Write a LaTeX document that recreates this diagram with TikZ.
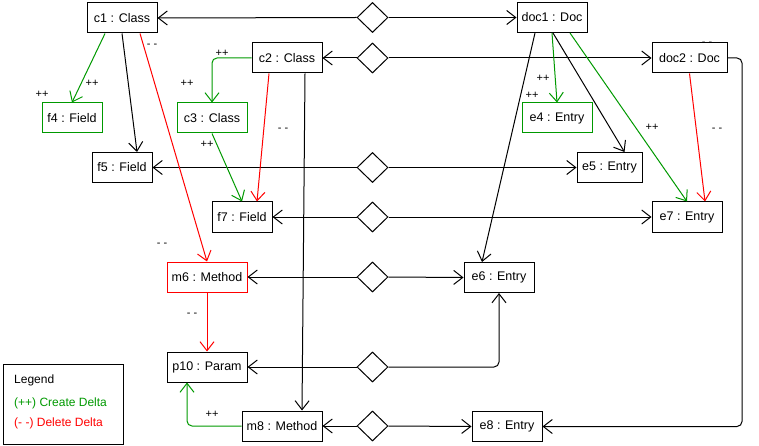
\documentclass[tikz,border=0pt]{standalone}
\usepackage{fontspec}
\setmainfont{Liberation Sans}
\usetikzlibrary{arrows.meta,shapes.geometric}
\definecolor{dgreen}{HTML}{009900}
\definecolor{dred}{HTML}{FF0000}
\begin{document}
\begin{tikzpicture}[x=1pt,y=-1pt,
 box/.style={draw, fill=white, line width=1pt, minimum height=30pt, inner sep=0pt, font=\fontsize{12.5}{14}\selectfont},
 gbox/.style={box, draw=dgreen},
 rbox/.style={box, draw=dred},
 dia/.style={diamond, draw, fill=white, line width=1pt, minimum width=31pt, minimum height=30pt, inner sep=0pt, aspect=1},
 link/.style={line width=1pt, -{Straight Barb[length=9pt,width=14pt]}},
 glink/.style={link, draw=dgreen},
 rlink/.style={link, draw=dred},
 lbl/.style={font=\fontsize{11}{12}\selectfont, inner sep=0pt},
]
\useasboundingbox (0,0) rectangle (759,446);

% label mostly hidden behind doc2
\node[lbl] (l0) at (707,43.8) {- -};

% nodes
\node[box, minimum width=70pt] (c1) at (122,18) {c1 : Class};
\node[box, minimum width=70pt] (c2) at (287,58) {c2 : Class};
\node[gbox, minimum width=60pt] (f4) at (72,118) {f4 : Field};
\node[gbox, minimum width=70pt] (c3) at (212,118) {c3 : Class};
\node[box, minimum width=60pt] (f5) at (122,167.5) {f5 : Field};
\node[box, minimum width=60pt] (f7) at (242,217) {f7 : Field};
\node[box, minimum width=70pt] (doc1) at (552,17.5) {doc1 : Doc};
\node[box, minimum width=75pt] (doc2) at (689.5,58) {doc2 : Doc};
\node[gbox, minimum width=70pt] (e4) at (557,118) {e4 : Entry};
\node[box, minimum width=65pt] (e5) at (609.5,167.5) {e5 : Entry};
\node[box, minimum width=70pt] (e7) at (687,217) {e7 : Entry};
\node[rbox, minimum width=80pt] (m6) at (207,277) {m6 : Method};
\node[box, minimum width=80pt] (p10) at (207,367) {p10 : Param};
\node[box, minimum width=80pt] (m8) at (282,426) {m8 : Method};
\node[box, minimum width=70pt] (e6) at (499,277.5) {e6 : Entry};
\node[box, minimum width=70pt] (e8) at (507,426.5) {e8 : Entry};

% diamonds
\node[dia] (d1) at (372.5,17.5) {};
\node[dia] (d2) at (372.5,58) {};
\node[dia] (d3) at (372.5,167.5) {};
\node[dia] (d4) at (372.5,217) {};
\node[dia] (d5) at (372.5,277) {};
\node[dia] (d6) at (372.5,367) {};
\node[dia] (d7) at (372.5,426) {};

\coordinate (r) at (742,0);

% correspondence links
\draw[link] (d1.west) -- (c1.east);
\draw[link] (d1.east) -- (doc1.west);
\draw[link] (d2.west) -- (c2.east);
\draw[link] (d2.east) -- (doc2.west);
\draw[link] (d3.west) -- (f5.east);
\draw[link] (d3.east) -- (e5.west);
\draw[link] (d4.west) -- (f7.east);
\draw[link] (d4.east) -- (e7.west);
\draw[link] (d5.west) -- (m6.east);
\draw[link] (d5.east) -- (e6.west);
\draw[link] (d6.west) -- (p10.east);
\draw[link, rounded corners=5pt] (d6.east) -| (e6.south);
\draw[link] (d7.west) -- (m8.east);
\draw[link] (d7.east) -- (e8.west);

% containment links
\draw[glink] ([xshift=-17pt]c1.south) -- (f4.north);
\draw[link] (c1.south) -- ([xshift=15pt]f5.north);
\draw[rlink] ([xshift=18pt]c1.south) -- (m6.north);
\draw[glink, rounded corners=5pt] (c2.west) -| (c3.north);
\draw[rlink] ([xshift=-18pt]c2.south) -- ([xshift=15pt]f7.north);
\draw[glink] (c3.south) -- (f7.north);
\draw[link] ([xshift=18pt]c2.south) -- ([xshift=20pt]m8.north);
\draw[rlink] (m6.south) -- (p10.north);
\draw[glink, rounded corners=5pt] (m8.west) -| ([xshift=-20pt]p10.south);
\draw[glink] (doc1.south) -- (e4.north);
\draw[link] ([xshift=1pt]doc1.south) -- ([xshift=15pt]e5.north);
\draw[glink] ([xshift=18pt]doc1.south) -- (e7.north);
\draw[link] ([xshift=-17pt]doc1.south) -- ([xshift=-17pt]e6.north);
\draw[rlink] (doc2.south) -- ([xshift=18pt]e7.north);
\draw[link, rounded corners=5pt] (doc2.east) -- (doc2.east -| r) -- (e8.east -| r) -- (e8.east);

% edge labels
\node[lbl] (l1) at (92,83) {++};
\node[lbl] (l2) at (42,94) {++};
\node[lbl] (l3) at (152,45.5) {- -};
\node[lbl] (l4) at (222,53) {++};
\node[lbl] (l5) at (187,83) {++};
\node[lbl] (l6) at (283,129.5) {- -};
\node[lbl] (l7) at (207,144) {++};
\node[lbl] (l8) at (162,244.5) {- -};
\node[lbl] (l9) at (192,314.5) {- -};
\node[lbl] (l10) at (212,414) {++};
\node[lbl] (l11) at (543,78) {++};
\node[lbl] (l12) at (532,95) {++};
\node[lbl] (l13) at (652,127) {++};
\node[lbl] (l14) at (717,129.5) {- -};

% legend
\node[draw, line width=1pt, minimum width=120pt, minimum height=80pt, anchor=north west, inner sep=0pt] (legend) at (2.5,363.5) {};
\node[anchor=west, inner sep=0pt, font=\fontsize{12}{14}\selectfont] (lg1) at (14,380) {Legend};
\node[anchor=west, inner sep=0pt, text=dgreen, font=\fontsize{12}{14}\selectfont] (lg2) at (14,403) {(++) Create Delta};
\node[anchor=west, inner sep=0pt, text=dred, font=\fontsize{12}{14}\selectfont] (lg3) at (14,423) {(- -) Delete Delta};
\end{tikzpicture}
\end{document}
